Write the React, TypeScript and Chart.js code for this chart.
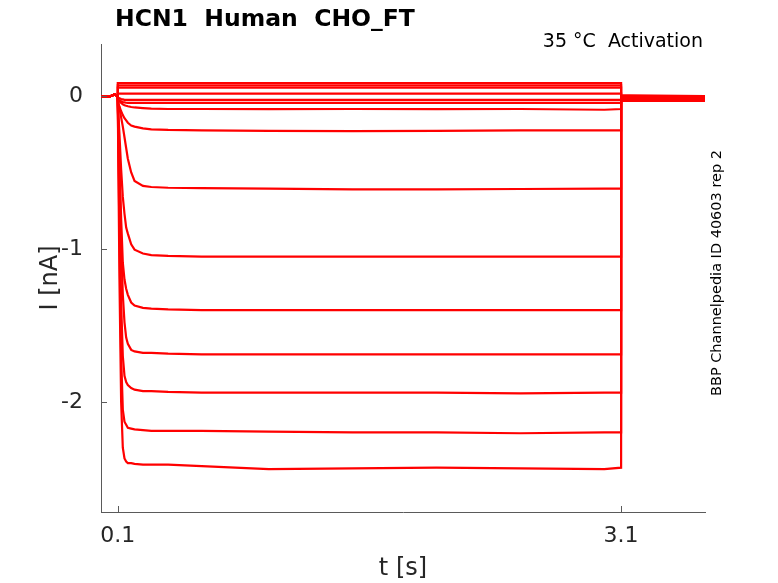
import React, { useEffect, useRef } from 'react';
import { Chart, registerables } from 'chart.js';

Chart.register(...registerables);

// sample times (s); 0.1 and 3.1 appear twice for the voltage steps
const TIME_S = [0, 0.05, 0.08, 0.1, 0.1, 0.11, 0.12, 0.13, 0.14, 0.15, 0.16, 0.18, 0.2, 0.25, 0.3, 0.4, 0.6, 1.0, 1.5, 2.0, 2.5, 3.0, 3.1, 3.1, 3.15, 3.6];

// currents (nA), one array per voltage step
const STEP_01 = [-0.005, -0.005, 0.01, 0, 0.085, 0.085, 0.085, 0.085, 0.085, 0.085, 0.085, 0.085, 0.085, 0.085, 0.085, 0.085, 0.085, 0.085, 0.085, 0.085, 0.085, 0.085, 0.085, 0.005, 0.005, 0.0];
const STEP_02 = [-0.005, -0.005, 0.01, 0, 0.07, 0.07, 0.07, 0.07, 0.07, 0.07, 0.07, 0.07, 0.07, 0.07, 0.07, 0.07, 0.07, 0.07, 0.07, 0.07, 0.07, 0.07, 0.07, 0.0, 0.0, -0.005];
const STEP_03 = [-0.005, -0.005, 0.01, 0, 0.055, 0.055, 0.055, 0.055, 0.055, 0.055, 0.055, 0.055, 0.055, 0.055, 0.055, 0.055, 0.055, 0.055, 0.055, 0.055, 0.055, 0.055, 0.055, -0.005, -0.005, -0.005];
const STEP_04 = [-0.005, -0.005, 0.01, 0, 0.015, 0.015, 0.015, 0.015, 0.015, 0.015, 0.015, 0.015, 0.015, 0.015, 0.015, 0.015, 0.015, 0.015, 0.015, 0.015, 0.015, 0.015, 0.015, -0.01, -0.01, -0.01];
const STEP_05 = [-0.005, -0.005, 0.01, 0, -0.01, -0.015, -0.02, -0.022, -0.025, -0.025, -0.025, -0.025, -0.025, -0.025, -0.025, -0.025, -0.025, -0.025, -0.025, -0.025, -0.025, -0.025, -0.025, -0.01, -0.01, -0.01];
const STEP_06 = [-0.005, -0.005, 0.01, 0, -0.02, -0.03, -0.035, -0.04, -0.042, -0.044, -0.045, -0.045, -0.045, -0.045, -0.045, -0.045, -0.045, -0.045, -0.045, -0.045, -0.045, -0.045, -0.045, -0.015, -0.015, -0.015];
const STEP_07 = [-0.005, -0.005, 0.01, 0, -0.02, -0.035, -0.045, -0.055, -0.06, -0.064, -0.067, -0.072, -0.075, -0.079, -0.082, -0.085, -0.085, -0.086, -0.085, -0.086, -0.085, -0.09, -0.085, -0.015, -0.015, -0.015];
const STEP_08 = [-0.005, -0.005, 0.01, 0, -0.03, -0.07, -0.1, -0.125, -0.145, -0.16, -0.175, -0.193, -0.2, -0.212, -0.218, -0.222, -0.225, -0.228, -0.23, -0.228, -0.225, -0.225, -0.225, -0.02, -0.02, -0.02];
const STEP_09 = [-0.005, -0.005, 0.01, 0, -0.03, -0.08, -0.14, -0.2, -0.27, -0.34, -0.41, -0.5, -0.555, -0.588, -0.595, -0.6, -0.603, -0.605, -0.61, -0.61, -0.608, -0.605, -0.605, -0.02, -0.02, -0.02];
const STEP_10 = [-0.005, -0.005, 0.01, 0, -0.04, -0.25, -0.48, -0.66, -0.77, -0.86, -0.9, -0.97, -1.005, -1.03, -1.04, -1.045, -1.05, -1.05, -1.05, -1.05, -1.05, -1.05, -1.05, -0.025, -0.025, -0.025];
const STEP_11 = [-0.005, -0.005, 0.01, 0, -0.04, -0.45, -0.8, -1.09, -1.2, -1.26, -1.3, -1.35, -1.37, -1.385, -1.39, -1.395, -1.4, -1.4, -1.4, -1.4, -1.4, -1.4, -1.4, -0.025, -0.025, -0.025];
const STEP_12 = [-0.005, -0.005, 0.01, 0, -0.04, -0.5, -0.95, -1.3, -1.48, -1.58, -1.62, -1.66, -1.67, -1.68, -1.68, -1.685, -1.69, -1.69, -1.69, -1.69, -1.69, -1.69, -1.69, -0.03, -0.03, -0.03];
const STEP_13 = [-0.005, -0.005, 0.01, 0, -0.04, -0.7, -1.35, -1.7, -1.83, -1.87, -1.89, -1.91, -1.92, -1.93, -1.93, -1.935, -1.94, -1.94, -1.94, -1.94, -1.945, -1.94, -1.94, -0.03, -0.03, -0.03];
const STEP_14 = [-0.005, -0.005, 0.01, 0, -0.05, -0.9, -1.7, -2.05, -2.13, -2.15, -2.17, -2.175, -2.18, -2.185, -2.19, -2.19, -2.19, -2.195, -2.2, -2.2, -2.205, -2.2, -2.2, -0.03, -0.03, -0.03];
const STEP_15 = [-0.005, -0.005, 0.01, 0, -0.05, -1.2, -2.0, -2.3, -2.37, -2.39, -2.4, -2.4, -2.405, -2.41, -2.41, -2.41, -2.42, -2.44, -2.435, -2.43, -2.435, -2.44, -2.43, -0.03, -0.03, -0.03];

const TRACES = [STEP_01, STEP_02, STEP_03, STEP_04, STEP_05, STEP_06, STEP_07, STEP_08, STEP_09, STEP_10, STEP_11, STEP_12, STEP_13, STEP_14, STEP_15];

const X_TICKS = [0.1, 3.1];
const Y_TICKS = [0, -1, -2];

const TITLE = 'HCN1  Human  CHO_FT';
const SUBTITLE = '35 °C  Activation';
const SIDE_NOTE = 'BBP Channelpedia ID 40603 rep 2';
const X_LABEL = 't [s]';
const Y_LABEL = 'I [nA]';

const TEXT_COLOR = '#262626';
const AXIS_COLOR = '#5a5a5a';
const FONT = 'DejaVu Sans';

// matlab-style inward ticks plus the text around the axes
const decorations = {
  id: 'decorations',
  afterDraw(chart: any) {
    const { ctx, chartArea, scales } = chart;
    ctx.save();
    ctx.strokeStyle = AXIS_COLOR;
    ctx.lineWidth = 1;
    ctx.beginPath();
    X_TICKS.forEach((v) => {
      const px = Math.round(scales.x.getPixelForValue(v)) + 0.5;
      ctx.moveTo(px, chartArea.bottom);
      ctx.lineTo(px, chartArea.bottom - 6);
    });
    Y_TICKS.forEach((v) => {
      const py = Math.round(scales.y.getPixelForValue(v)) + 0.5;
      ctx.moveTo(chartArea.left, py);
      ctx.lineTo(chartArea.left + 6, py);
    });
    ctx.stroke();

    ctx.fillStyle = '#000';
    ctx.font = `bold 23.5px "${FONT}"`;
    ctx.textAlign = 'left';
    ctx.textBaseline = 'alphabetic';
    ctx.fillText(TITLE, 115, 26);

    ctx.fillStyle = '#000';
    ctx.font = `19px "${FONT}"`;
    ctx.textAlign = 'right';
    ctx.fillText(SUBTITLE, 703, 47);

    ctx.fillStyle = TEXT_COLOR;
    ctx.font = `24px "${FONT}"`;
    ctx.textAlign = 'center';
    ctx.fillText(X_LABEL, (chartArea.left + chartArea.right) / 2, 575);

    ctx.save();
    ctx.translate(51, (chartArea.top + chartArea.bottom) / 2);
    ctx.rotate(-Math.PI / 2);
    ctx.textBaseline = 'middle';
    ctx.fillText(Y_LABEL, 0, 0);
    ctx.restore();

    ctx.save();
    ctx.fillStyle = '#000';
    ctx.font = `14.5px "${FONT}"`;
    ctx.translate(717, 273);
    ctx.rotate(-Math.PI / 2);
    ctx.textAlign = 'center';
    ctx.textBaseline = 'middle';
    ctx.fillText(SIDE_NOTE, 0, 0);
    ctx.restore();

    ctx.restore();
  },
};

const App: React.FC = () => {
  const chartRef = useRef<HTMLCanvasElement>(null);
  const chartInstance = useRef<Chart | null>(null);

  useEffect(() => {
    if (chartInstance.current) {
      chartInstance.current.destroy();
    }
    if (!chartRef.current) return;
    const ctx = chartRef.current.getContext('2d');
    if (!ctx) return;

    chartInstance.current = new Chart(ctx, {
      type: 'line',
      data: {
        datasets: TRACES.map((trace) => ({
          data: TIME_S.map((t, i) => ({ x: t, y: trace[i] })),
          borderColor: '#ff0000',
          borderWidth: 2.2,
          pointRadius: 0,
          tension: 0,
          fill: false,
        })),
      },
      options: {
        responsive: false,
        animation: false,
        maintainAspectRatio: false,
        layout: { padding: { left: 0, right: 73, top: 44, bottom: 0 } },
        plugins: {
          legend: { display: false },
          tooltip: { enabled: false },
        },
        scales: {
          x: {
            type: 'linear',
            min: 0,
            max: 3.6,
            afterBuildTicks: (scale: any) => {
              scale.ticks = X_TICKS.map((v) => ({ value: v }));
            },
            afterFit: (scale: any) => {
              scale.height = 71;
            },
            grid: { display: false, drawTicks: false },
            border: { display: true, color: AXIS_COLOR, width: 1 },
            ticks: {
              padding: 11,
              color: TEXT_COLOR,
              font: { family: FONT, size: 22 },
              maxRotation: 0,
              autoSkip: false,
              callback: (v: any) => String(v),
            },
          },
          y: {
            type: 'linear',
            min: -2.72,
            max: 0.34,
            afterBuildTicks: (scale: any) => {
              scale.ticks = Y_TICKS.map((v) => ({ value: v }));
            },
            afterFit: (scale: any) => {
              scale.width = 101;
            },
            grid: { display: false, drawTicks: false },
            border: { display: true, color: AXIS_COLOR, width: 1 },
            ticks: {
              padding: 18,
              color: TEXT_COLOR,
              font: { family: FONT, size: 22 },
              autoSkip: false,
              callback: (v: any) => String(v),
            },
          },
        },
      },
      plugins: [decorations],
    });

    return () => {
      if (chartInstance.current) {
        chartInstance.current.destroy();
        chartInstance.current = null;
      }
    };
  }, []);

  return (
    <div style={{ position: 'absolute', left: 0, top: 0, width: '778px', height: '583px', background: '#fff' }}>
      <canvas ref={chartRef} width={778} height={583}></canvas>
    </div>
  );
};

export default App;
